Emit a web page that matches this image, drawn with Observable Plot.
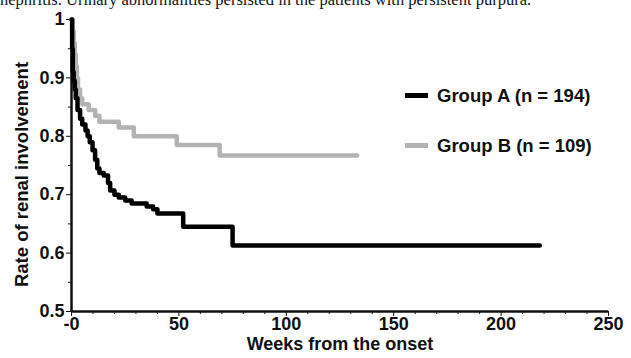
<!DOCTYPE html>
<html>
<head>
<meta charset="utf-8">
<script src="https://cdn.jsdelivr.net/npm/d3@7"></script>
<script src="https://cdn.jsdelivr.net/npm/@observablehq/plot@0.6"></script>
<style>
  html, body { margin: 0; padding: 0; background: #fff; }
  #wrap { position: relative; width: 631px; height: 358px; overflow: hidden; }
  #cap { position: absolute; left: 0; top: -10px; font-family: "Liberation Serif", serif; font-size: 16.5px; white-space: nowrap; color: #111; }
  .leg { position: absolute; font-family: "Liberation Sans", Arial, sans-serif; font-weight: bold; font-size: 18.5px; color: #111; white-space: nowrap; }
  .sw { display: inline-block; width: 23px; height: 5px; vertical-align: middle; margin-right: 9px; position: relative; top: -2px; }
</style>
</head>
<body>
<div id="wrap">
  <div id="chart"></div>
  <div id="cap">nephritis. Urinary abnormalities persisted in the patients with persistent purpura.</div>
  <div class="leg" style="left:405px; top:85px;"><span class="sw" style="background:#000"></span>Group A (n = 194)</div>
  <div class="leg" style="left:405px; top:135px;"><span class="sw" style="background:#b3b3b3"></span>Group B (n = 109)</div>
</div>
<script>
const groupAWeeks = [0, 0.3, 0.6, 1, 1.5, 2, 2.8, 4, 5, 6.5, 7.5, 8.5, 9.8, 11, 12, 13, 15, 17, 18, 20, 22, 25, 28, 35, 38, 40, 52, 75, 218];
const groupARate  = [1.0, 0.95, 0.91, 0.895, 0.88, 0.865, 0.845, 0.83, 0.82, 0.81, 0.80, 0.79, 0.776, 0.76, 0.745, 0.737, 0.733, 0.72, 0.707, 0.70, 0.695, 0.69, 0.685, 0.68, 0.675, 0.668, 0.645, 0.613, 0.613];
const groupBWeeks = [0, 0.5, 1, 1.5, 2, 2.5, 3, 4, 5, 8, 11, 13, 22, 29, 49, 69, 133];
const groupBRate  = [1.0, 0.98, 0.96, 0.94, 0.92, 0.90, 0.88, 0.865, 0.855, 0.845, 0.835, 0.825, 0.815, 0.80, 0.785, 0.767, 0.767];
const yTicks = [0.5, 0.6, 0.7, 0.8, 0.9, 1];
const yMinor = [0.55, 0.65, 0.75, 0.85, 0.95];
const xTicks = [0, 50, 100, 150, 200, 250];
const xMinor = d3.range(10, 250, 10).filter(d => d % 50 !== 0);
const xTitle = "Weeks from the onset";
const yTitle = "Rate of renal involvement";

const A = groupAWeeks.map((w, i) => ({w, r: groupARate[i]}));
const B = groupBWeeks.map((w, i) => ({w, r: groupBRate[i]}));

const font = "Liberation Sans, Arial, sans-serif";
const chart = Plot.plot({
  width: 631, height: 358,
  marginLeft: 71, marginRight: 23, marginTop: 19, marginBottom: 47,
  style: {fontFamily: font, fontWeight: "bold", fontSize: "18px", color: "#111", background: "#fff"},
  x: {domain: [0, 250]},
  y: {domain: [0.5, 1]},
  marks: [
    Plot.axisX({ticks: xTicks, tickSize: 5, tickPadding: 1, tickFormat: d => d === 0 ? "-0" : String(d), tickWidth: 2.5,
      label: xTitle, labelAnchor: "center", labelArrow: "none", labelOffset: 38, fontSize: 18, fontWeight: "bold"}),
    Plot.axisX({ticks: xMinor, tickSize: 3, tickWidth: 2, text: null, label: null}),
    Plot.axisY({ticks: yTicks, tickSize: 5, tickPadding: 2, tickFormat: d => d === 1 ? "1" : d.toFixed(1), tickWidth: 2.5,
      label: null, fontSize: 18, fontWeight: "bold"}),
    Plot.axisY({ticks: yMinor, tickSize: 3, tickWidth: 2, text: null, label: null}),
    Plot.text([yTitle], {frameAnchor: "left", textAnchor: "middle", rotate: -90, dx: -49, dy: 9, fontSize: 18.5, fontWeight: "bold", fill: "#111"}),
    Plot.ruleX([0], {stroke: "#111", strokeWidth: 2.5}),
    Plot.ruleY([0.5], {stroke: "#111", strokeWidth: 2.5}),
    Plot.line(B, {x: "w", y: "r", curve: "step-after", stroke: "#b3b3b3", strokeWidth: 4.5}),
    Plot.line(A, {x: "w", y: "r", curve: "step-after", stroke: "#000", strokeWidth: 4.5})
  ]
});
document.getElementById("chart").appendChild(chart);
</script>
</body>
</html>
